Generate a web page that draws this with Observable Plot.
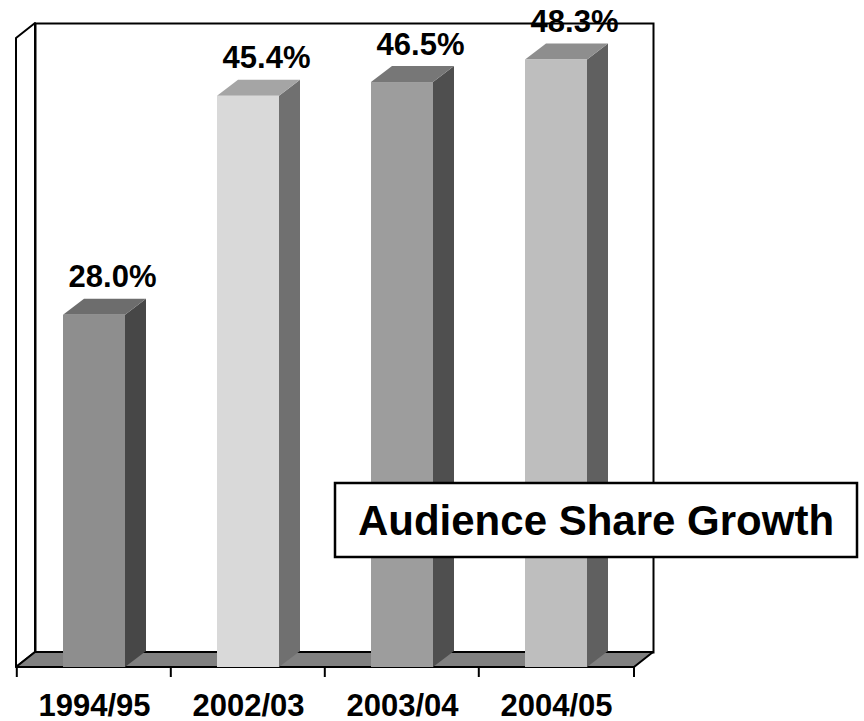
<!DOCTYPE html>
<html>
<head>
<meta charset="utf-8">
<script src="https://cdn.jsdelivr.net/npm/d3@7"></script>
<script src="https://cdn.jsdelivr.net/npm/@observablehq/plot@0.6"></script>
<style>
  body { margin: 0; background: #ffffff; }
  #chart svg { display: block; }
</style>
</head>
<body>
<div id="chart"></div>
<script>
// ---- data ----
const seasons = ["1994/95", "2002/03", "2003/04", "2004/05"];
const shares = [28.0, 45.4, 46.5, 48.3];
const valueLabels = ["28.0%", "45.4%", "46.5%", "48.3%"];
const frontColors = ["#8e8e8e", "#d9d9d9", "#9d9d9d", "#bebebe"];
const topColors = ["#6d6d6d", "#a5a5a5", "#777777", "#8e8e8e"];
const sideColors = ["#474747", "#707070", "#4f4f4f", "#606060"];
const yDomain = [0, 50];
const titleText = "Audience Share Growth";

const data = seasons.map((s, i) => ({season: s, share: shares[i], label: valueLabels[i], i}));

// ---- 3D styling ----
const WALL_DX = 19, WALL_DY = -15;
const BAR_DX = 21, BAR_DY = -16;
const PAD_INNER = 0.6, PAD_OUTER = 0.3;
const FONT = "'Liberation Sans', Arial, Helvetica, sans-serif";

function bandInfo(x) {
  const step = typeof x.step === "function" ? x.step() : (x(seasons[1]) - x(seasons[0]));
  const bw = typeof x.bandwidth === "function" ? x.bandwidth() : step * (1 - PAD_INNER);
  return {step, bw};
}

// left side wall
function leftWall(index, scales, values, dims) {
  const [x0] = scales.x.range();
  const yTop = scales.y(yDomain[1]), yBot = scales.y(0);
  const g = d3.create("svg:g");
  g.append("path")
    .attr("d", `M${x0},${yTop}L${x0 + WALL_DX},${yTop + WALL_DY}L${x0 + WALL_DX},${yBot + WALL_DY}L${x0},${yBot}Z`)
    .attr("fill", "white").attr("stroke", "black").attr("stroke-width", 2).attr("stroke-linejoin", "round");
  return g.node();
}

// floor + ticks
function floorMark(index, scales, values, dims) {
  const [x0, x1] = scales.x.range();
  const yBot = scales.y(0);
  const {step} = bandInfo(scales.x);
  const g = d3.create("svg:g");
  g.append("path")
    .attr("d", `M${x0},${yBot}L${x1},${yBot}L${x1 + WALL_DX},${yBot + WALL_DY}L${x0 + WALL_DX},${yBot + WALL_DY}Z`)
    .attr("fill", "#808080").attr("stroke", "black").attr("stroke-width", 2).attr("stroke-linejoin", "round");
  const bounds = seasons.map(s => scales.x(s) - PAD_OUTER * step).concat([x1]);
  g.selectAll("line").data(bounds).join("line")
    .attr("x1", d => d).attr("x2", d => d)
    .attr("y1", yBot).attr("y2", yBot + 10)
    .attr("stroke", "black").attr("stroke-width", 2);
  return g.node();
}

// 3D bars
function bars3d(index, scales, values, dims) {
  const {bw} = bandInfo(scales.x);
  const yBot = scales.y(0);
  const g = d3.create("svg:g");
  for (const d of data) {
    const bx = scales.x(d.season), yt = scales.y(d.share);
    g.append("path")
      .attr("d", `M${bx + bw},${yt}L${bx + bw + BAR_DX},${yt + BAR_DY}L${bx + bw + BAR_DX},${yBot + BAR_DY}L${bx + bw},${yBot}Z`)
      .attr("fill", sideColors[d.i]);
    g.append("path")
      .attr("d", `M${bx},${yt}L${bx + BAR_DX},${yt + BAR_DY}L${bx + bw + BAR_DX},${yt + BAR_DY}L${bx + bw},${yt}Z`)
      .attr("fill", topColors[d.i]);
    g.append("rect")
      .attr("x", bx).attr("y", yt).attr("width", bw).attr("height", yBot - yt)
      .attr("fill", frontColors[d.i]);
  }
  return g.node();
}

// title box annotation
function titleBox(index, scales, values, dims) {
  const g = d3.create("svg:g");
  const bx = 335, by = 483, bwid = 522, bh = 74;
  g.append("rect")
    .attr("x", bx).attr("y", by).attr("width", bwid).attr("height", bh)
    .attr("fill", "white").attr("stroke", "black").attr("stroke-width", 2.5);
  g.append("text")
    .attr("x", bx + bwid / 2).attr("y", by + 52)
    .attr("text-anchor", "middle")
    .attr("font-family", FONT).attr("font-weight", "bold").attr("font-size", 42)
    .attr("fill", "black")
    .text(titleText);
  return g.node();
}

const chart = Plot.plot({
  width: 864,
  height: 721,
  marginLeft: 16,
  marginRight: 230,
  marginTop: 38,
  marginBottom: 54,
  style: {fontFamily: FONT, background: "white", color: "black", overflow: "visible"},
  x: {type: "band", domain: seasons, paddingInner: PAD_INNER, paddingOuter: PAD_OUTER, axis: null},
  y: {domain: yDomain, axis: null},
  marks: [
    leftWall,
    Plot.frame({dx: WALL_DX, dy: WALL_DY, fill: "white", stroke: "black", strokeWidth: 2}),
    floorMark,
    bars3d,
    Plot.text(data, {
      x: "season", y: "share", text: "label",
      dx: 18, dy: -28, lineAnchor: "bottom",
      fontSize: 31, fontWeight: "bold", fill: "black"
    }),
    Plot.text(seasons, {
      x: d => d, frameAnchor: "bottom", dy: 48, lineAnchor: "bottom",
      fontSize: 31, fontWeight: "bold", fill: "black"
    }),
    titleBox
  ]
});

document.getElementById("chart").appendChild(chart);
</script>
</body>
</html>
